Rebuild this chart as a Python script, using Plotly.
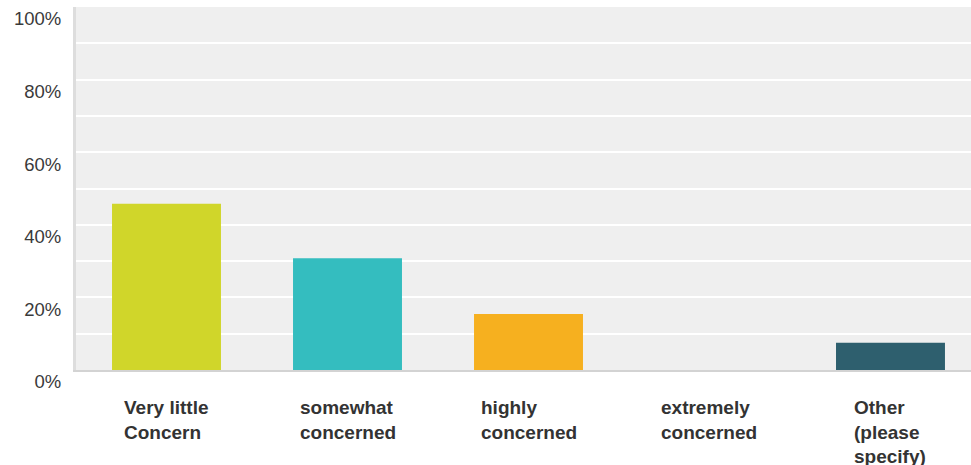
import plotly.graph_objects as go

categories = ["Very little<br>Concern", "somewhat<br>concerned", "highly<br>concerned",
              "extremely<br>concerned", "Other<br>(please<br>specify)"]
values = [45.8, 30.8, 15.4, 0.0, 7.5]
colors = ["#D0D62A", "#34BDBF", "#F6B01F", "#E06E3C", "#2E5F6E"]
y_tickvals = [0, 10, 20, 30, 40, 50, 60, 70, 80, 90, 100]
y_ticktext = ["0%", "", "20%", "", "40%", "", "60%", "", "80%", "", "100%"]

FONT = "Arial, Liberation Sans, Helvetica, sans-serif"

fig = go.Figure()
fig.add_trace(go.Bar(
    x=list(range(len(categories))),
    y=values,
    marker=dict(color=colors, line=dict(width=0)),
    hoverinfo="skip",
))

for i, lab in enumerate(categories):
    fig.add_annotation(
        x=i, xref="x", y=0, yref="paper", yanchor="top", xanchor="center",
        yshift=-25, text="<b>" + lab + "</b>", align="left", showarrow=False,
        font=dict(family=FONT, size=19, color="#333333"),
    )

fig.update_layout(
    width=971, height=465,
    margin=dict(l=76, r=0, t=7, b=95, pad=0),
    paper_bgcolor="white",
    plot_bgcolor="#EFEFEF",
    bargap=0.398,
    showlegend=False,
    font=dict(family=FONT),
)
fig.update_xaxes(
    range=[-0.5, 4.4448], showticklabels=False, showgrid=False, zeroline=False,
    showline=True, linecolor="#D3D3D3", linewidth=2, ticks="", fixedrange=True,
)
fig.update_yaxes(
    range=[0, 100], tickvals=y_tickvals, ticktext=y_ticktext,
    showgrid=True, gridcolor="white", gridwidth=2, zeroline=False,
    showline=True, linecolor="#DDDDDD", linewidth=3, ticks="",
    tickfont=dict(family=FONT, size=18.5, color="#3A3A3A"),
    ticklabelshift=12, ticklabelstandoff=8, ticklabeloverflow="allow",
    fixedrange=True,
)

fig.write_html(
    "out.html",
    config={"displayModeBar": False},
    post_script="document.body.style.margin='0';document.body.style.overflow='hidden';",
)
